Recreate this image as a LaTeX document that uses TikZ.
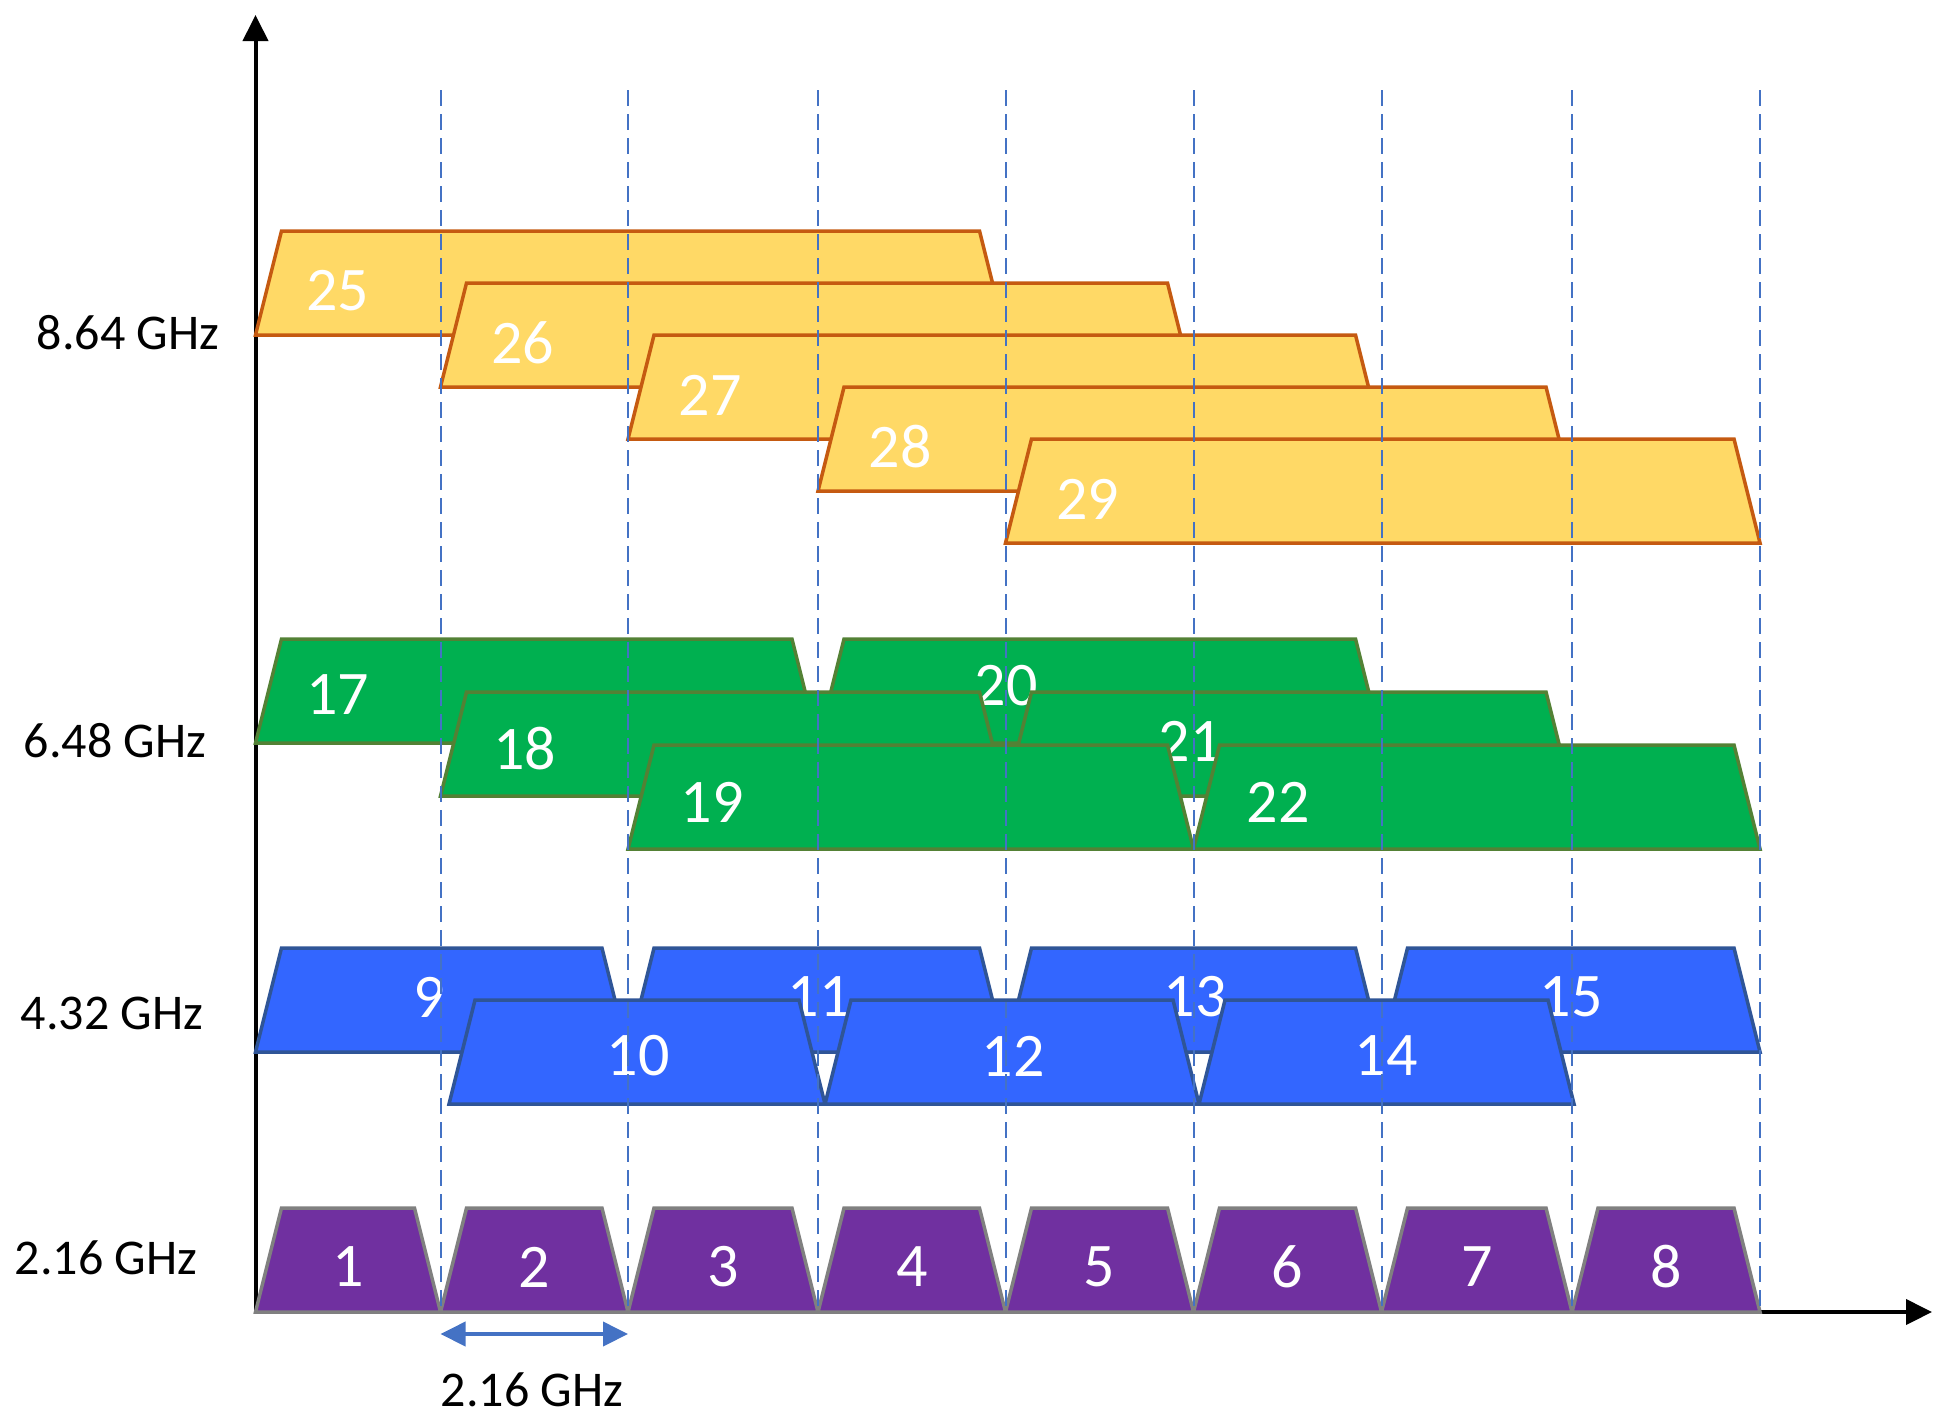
\documentclass[tikz,border=0pt]{standalone}
\usepackage{fontspec}
\setmainfont{Carlito}
\usetikzlibrary{arrows.meta}
\definecolor{yfill}{HTML}{FFD966}
\definecolor{ydraw}{HTML}{C55A11}
\definecolor{gfill}{HTML}{00B050}
\definecolor{gdraw}{HTML}{538135}
\definecolor{bfill}{HTML}{3366FF}
\definecolor{bdraw}{HTML}{2F5597}
\definecolor{pfill}{HTML}{7030A0}
\definecolor{pdraw}{HTML}{808080}
\definecolor{dashblue}{HTML}{4472C4}
\def\gl{{255.5,440.5,628,818,1005.5,1193.5,1381.5,1572,1760}}
\def\S{26}\def\H{104}
% trapezoid from absolute x positions
\newcommand\trapx[4]{\draw[#1] ({#2},{#4+\H}) -- ({#2+\S},{#4}) -- ({#3-\S},{#4}) -- ({#3},{#4+\H}) -- cycle;}
% trapezoid from grid indices
\newcommand\trapg[4]{\pgfmathsetmacro\xa{\gl[#2]}\pgfmathsetmacro\xb{\gl[#3]}\trapx{#1}{\xa}{\xb}{#4}}
\begin{document}
\begin{tikzpicture}[x=1pt,y=-1pt,line join=miter,
  ybox/.style={fill=yfill,draw=ydraw,line width=3.5pt},
  gbox/.style={fill=gfill,draw=gdraw,line width=3.5pt},
  bbox/.style={fill=bfill,draw=bdraw,line width=3.5pt},
  pbox/.style={fill=pfill,draw=pdraw,line width=3.5pt},
  num/.style={text=white,font=\fontsize{62}{62}\selectfont,inner sep=0pt},
  lab/.style={text=black,font=\fontsize{50}{50}\selectfont,inner sep=0pt},
  axis/.style={line width=4pt,-{Triangle[length=26pt,width=25pt]}},
  grid/.style={dashblue,line width=2pt,dash pattern=on 16pt off 8pt},
  dim/.style={dashblue,line width=4pt,{Triangle[length=25pt,width=24pt]}-{Triangle[length=25pt,width=24pt]}}]
\useasboundingbox (0,0) rectangle (1946,1422);
% axes
\coordinate (O) at (255.5,1312);
\coordinate (ytip) at (255.5,15);
\coordinate (xtip) at (1932,1312);
\draw[axis] (O) -- (ytip);
\draw[axis] (O) -- (xtip);
% 8.64 GHz
\foreach \i/\t in {0/25,1/26,2/27,3/28,4/29}{
  \pgfmathtruncatemacro\j{\i+4}
  \trapg{ybox}{\i}{\j}{231+52*\i}
  \pgfmathsetmacro\xl{\gl[\i]}
  \node[num] (n\t) at ({\xl+82},{231+52*\i+60}) {\t};
}
% 6.48 GHz
\trapg{gbox}{0}{3}{639}
\node[num] (n17) at (337.5,695) {17};
\trapg{gbox}{3}{6}{639}
\node[num] (n20) at (1006,686) {20};
\trapg{gbox}{1}{4}{692}
\node[num] (n18) at (524.5,749) {18};
\trapg{gbox}{4}{7}{692}
\node[num] (n21) at (1190,741) {21};
\trapg{gbox}{2}{5}{745}
\node[num] (n19) at (712,802) {19};
\trapg{gbox}{5}{8}{745}
\node[num] (n22) at (1278,802) {22};
% 4.32 GHz
\trapg{bbox}{0}{2}{948}
\trapg{bbox}{2}{4}{948}
\trapg{bbox}{4}{6}{948}
\trapg{bbox}{6}{8}{948}
\node[num] (n9) at (429,997) {9};
\node[num] (n11) at (819,997) {11};
\node[num] (n13) at (1195,997) {13};
\node[num] (n15) at (1571,997) {15};
\trapx{bbox}{449}{825}{1000}
\node[num] (n10) at (638,1056) {10};
\trapx{bbox}{825}{1199}{1000}
\node[num] (n12) at (1013,1056) {12};
\trapx{bbox}{1199}{1574}{1000}
\node[num] (n14) at (1386,1056) {14};
% 2.16 GHz
\foreach \k in {0,...,7}{
  \pgfmathtruncatemacro\j{\k+1}
  \trapg{pbox}{\k}{\j}{1208}
  \pgfmathsetmacro\xm{0.5*(\gl[\k]+\gl[\j])}
  \node[num] (n\j) at (\xm,1267) {\j};
}
% grid
\foreach \k in {1,...,8}{
  \pgfmathsetmacro\xg{\gl[\k]}
  \coordinate (gt\k) at (\xg,90);
  \coordinate (gb\k) at (\xg,1312);
  \draw[grid] (gt\k) -- (gb\k);
}
% labels
\node[lab] (l864) at (128,333) {8.64 GHz};
\node[lab] (l648) at (115,741) {6.48 GHz};
\node[lab] (l432) at (112,1013) {4.32 GHz};
\node[lab] (l216) at (106,1258) {2.16 GHz};
\coordinate (a1) at (440.5,1334);
\coordinate (a2) at (628,1334);
\draw[dim] (a1) -- (a2);
\node[lab] (bw) at (532,1390) {2.16 GHz};
\end{tikzpicture}
\end{document}
